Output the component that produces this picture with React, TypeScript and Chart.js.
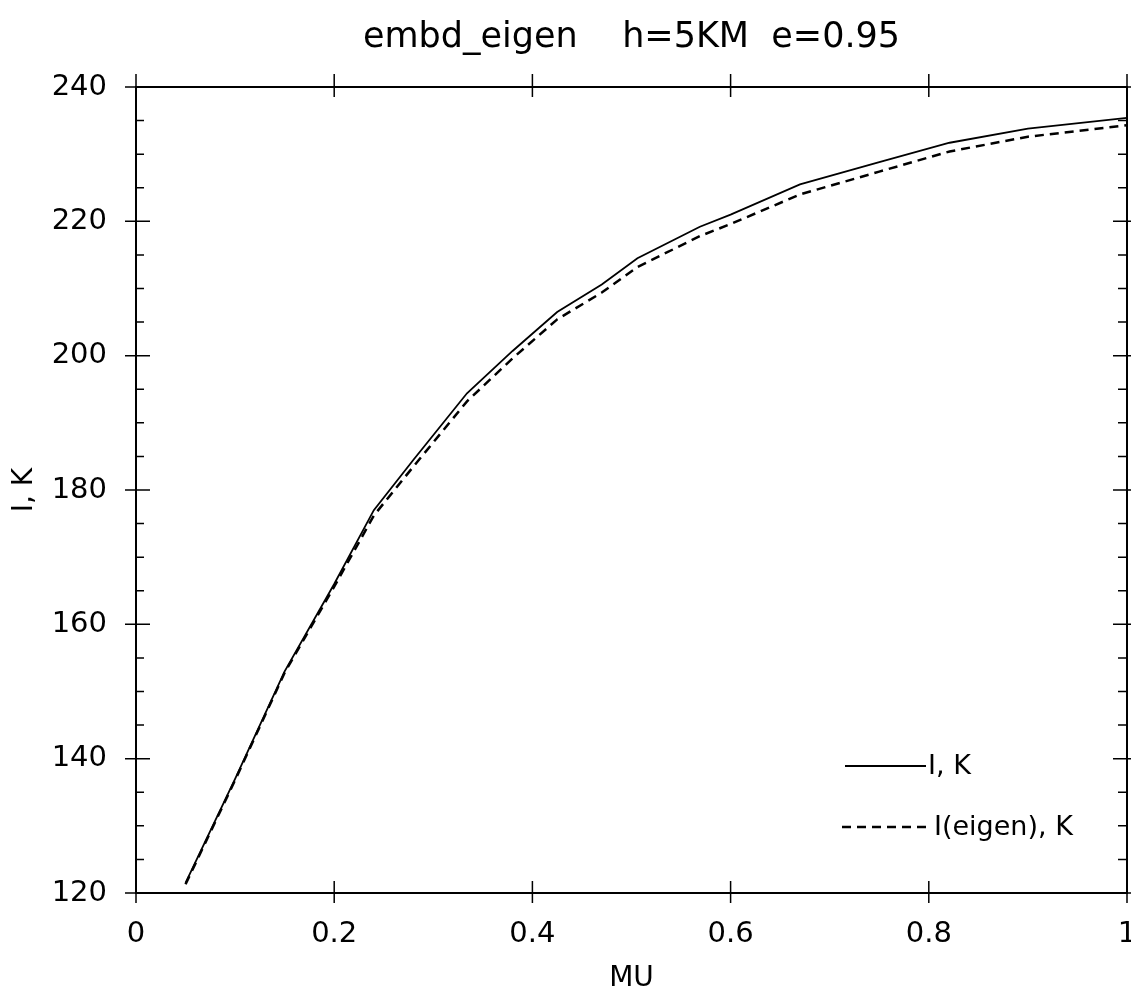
import React, { useEffect, useRef } from "react";
import { Chart, registerables } from "chart.js";

Chart.register(...registerables);

const TITLE = "embd_eigen    h=5KM  e=0.95";
const X_TITLE = "MU";
const Y_TITLE = "I, K";

const mu = [0.05, 0.1, 0.15, 0.2, 0.24, 0.28, 0.334, 0.38, 0.425, 0.47, 0.506, 0.569, 0.6, 0.67, 0.75, 0.821, 0.9, 1.0];
const iK = [121.5, 137, 153, 166, 177, 184.5, 194.4, 200.7, 206.5, 210.6, 214.5, 219.2, 221, 225.5, 228.8, 231.7, 233.8, 235.4];
const iEigen = [121.3, 136.8, 152.8, 165.6, 176.2, 183.5, 193.2, 199.6, 205.4, 209.4, 213.2, 217.8, 219.6, 224.0, 227.4, 230.4, 232.6, 234.3];

const SERIES_LABELS = ["I, K", "I(eigen), K"];
const X_MAJOR = [0, 0.2, 0.4, 0.6, 0.8, 1];
const Y_MAJOR = [120, 140, 160, 180, 200, 220, 240];
const Y_MINOR = [125, 130, 135, 145, 150, 155, 165, 170, 175, 185, 190, 195, 205, 210, 215, 225, 230, 235];

const FONT = "'DejaVu Sans', sans-serif";

const framePlugin = {
  id: "frame",
  afterDatasetsDraw(chart: any) {
    const { ctx, chartArea, scales } = chart;
    const { left, right, top, bottom } = chartArea;
    const xs = scales.x;
    const ys = scales.y;
    ctx.save();
    ctx.strokeStyle = "#000";
    ctx.lineWidth = 2;
    ctx.beginPath();
    ctx.moveTo(left, top);
    ctx.lineTo(right, top);
    ctx.lineTo(right, bottom);
    ctx.lineTo(left, bottom);
    ctx.closePath();
    ctx.stroke();
    ctx.lineWidth = 1.5;
    ctx.beginPath();
    X_MAJOR.forEach((v) => {
      const px = xs.getPixelForValue(v);
      ctx.moveTo(px, bottom + 10);
      ctx.lineTo(px, bottom - 12);
      ctx.moveTo(px, top - 13);
      ctx.lineTo(px, top + 10);
    });
    Y_MAJOR.forEach((v) => {
      const py = ys.getPixelForValue(v);
      ctx.moveTo(left - 11, py);
      ctx.lineTo(left + 14, py);
      ctx.moveTo(right + 11, py);
      ctx.lineTo(right - 14, py);
    });
    Y_MINOR.forEach((v) => {
      const py = ys.getPixelForValue(v);
      ctx.moveTo(left, py);
      ctx.lineTo(left + 8, py);
      ctx.moveTo(right, py);
      ctx.lineTo(right - 9, py);
    });
    ctx.stroke();

    // legend (inside plot, bottom right)
    const ds = chart.data.datasets;
    const rows = [
      { y: 766, dash: [] as number[], w: 1.8, x0: 845, x1: 926 },
      { y: 827, dash: [9, 6], w: 2.5, x0: 842, x1: 932 },
    ];
    ctx.font = `27px ${FONT}`;
    ctx.fillStyle = "#000";
    ctx.textBaseline = "middle";
    ctx.textAlign = "left";
    rows.forEach((r, i) => {
      ctx.setLineDash(r.dash);
      ctx.lineWidth = r.w;
      ctx.beginPath();
      ctx.moveTo(r.x0, r.y);
      ctx.lineTo(r.x1, r.y);
      ctx.stroke();
      ctx.setLineDash([]);
      ctx.fillText(ds[i].label, r.x1 + 2, r.y + 1);
    });
    ctx.restore();
  },
};

export default function App() {
  const ref = useRef<HTMLCanvasElement>(null);
  useEffect(() => {
    document.body.style.margin = "0";
    const toPts = (ys: number[]) => mu.map((x, i) => ({ x, y: ys[i] }));
    const chart = new Chart(ref.current!, {
      type: "line",
      data: {
        datasets: [
          {
            label: SERIES_LABELS[0],
            data: toPts(iK),
            borderColor: "#000",
            borderWidth: 1.8,
            pointRadius: 0,
            tension: 0,
            fill: false,
          },
          {
            label: SERIES_LABELS[1],
            data: toPts(iEigen),
            borderColor: "#000",
            borderWidth: 2.5,
            borderDash: [9, 6],
            pointRadius: 0,
            tension: 0,
            fill: false,
          },
        ],
      },
      options: {
        animation: false,
        responsive: false,
        layout: { padding: { left: 0, right: 4, top: 0, bottom: 0 } },
        plugins: {
          legend: { display: false },
          tooltip: { enabled: false },
          title: {
            display: true,
            fullSize: false,
            text: TITLE,
            color: "#000",
            font: { family: FONT, size: 35, weight: "normal" as any },
            padding: { top: 17, bottom: 28 },
          },
        },
        scales: {
          x: {
            type: "linear",
            min: 0,
            max: 1,
            ticks: {
              stepSize: 0.2,
              color: "#000",
              padding: 24,
              font: { family: FONT, size: 29 },
              callback: (v: any) => String(Math.round(Number(v) * 10) / 10),
            },
            grid: { display: false, drawTicks: false },
            border: { display: false },
            title: {
              display: true,
              text: X_TITLE,
              color: "#000",
              font: { family: FONT, size: 28 },
              padding: { top: 4, bottom: 0 },
            },
            afterFit: (s: any) => {
              s.height = 103;
              s.paddingLeft = 0;
              s.paddingRight = 0;
            },
          },
          y: {
            type: "linear",
            min: 120,
            max: 240,
            ticks: {
              stepSize: 20,
              color: "#000",
              padding: 29,
              font: { family: FONT, size: 29 },
            },
            grid: { display: false, drawTicks: false },
            border: { display: false },
            title: {
              display: true,
              text: Y_TITLE,
              color: "#000",
              font: { family: FONT, size: 28 },
              padding: { top: 8, bottom: 0 },
            },
            afterFit: (s: any) => {
              s.width = 136;
              s.paddingTop = 0;
              s.paddingBottom = 0;
            },
          },
        },
      },
      plugins: [framePlugin],
    });
    return () => chart.destroy();
  }, []);
  return (
    <div style={{ width: 1131, height: 996, background: "#fff" }}>
      <canvas ref={ref} width={1131} height={996} style={{ display: "block" }} />
    </div>
  );
}
